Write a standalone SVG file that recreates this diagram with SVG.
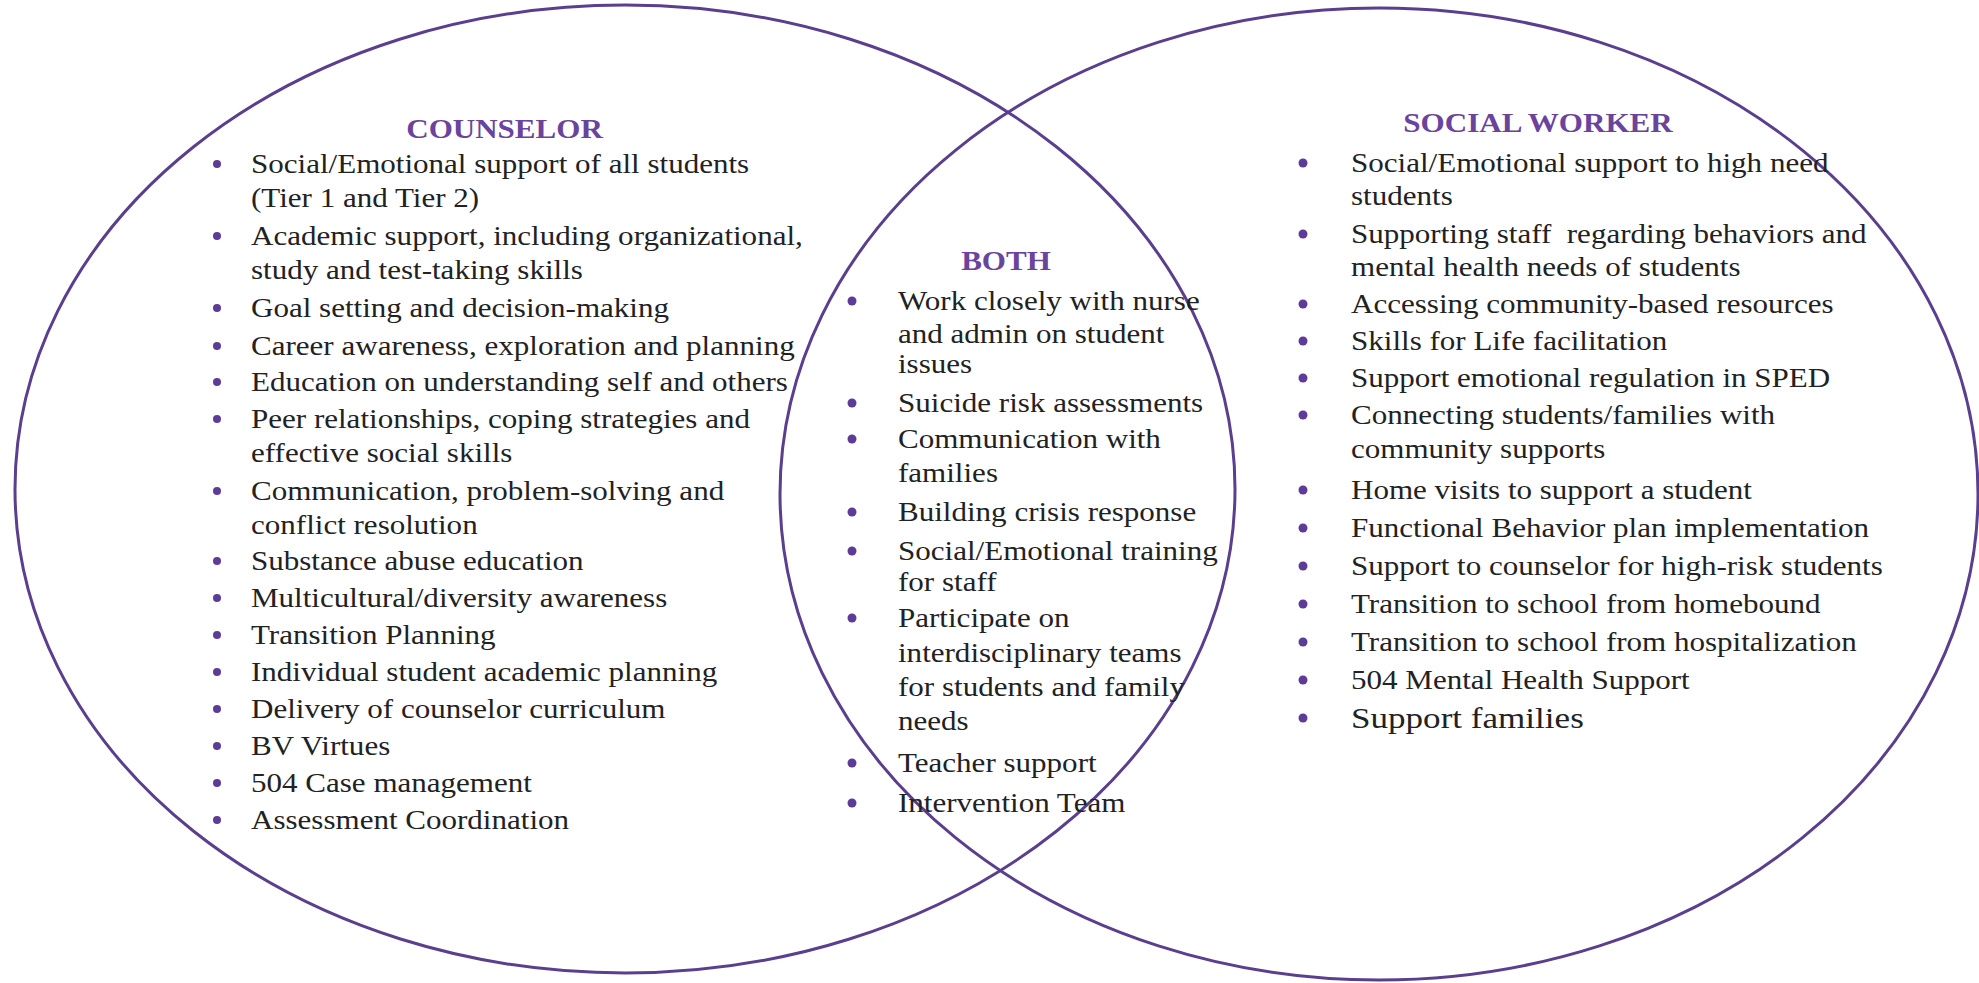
<svg xmlns="http://www.w3.org/2000/svg" width="1979" height="983" viewBox="0 0 1979 983">
<style>
.ring{fill:none;stroke:#5a3f8e;stroke-width:3}
.t{font-family:"Liberation Serif","Times New Roman",serif;font-size:27px;fill:#222}
.h{font-family:"Liberation Serif","Times New Roman",serif;font-size:27px;font-weight:bold;fill:#6a449c;text-anchor:middle}
.dot{fill:#5d3b98}
.big{font-size:30.5px}
</style>
<rect width="1979" height="983" fill="#fff"/>
<g id="circles">
<ellipse id="counselor-circle" class="ring" cx="625" cy="489" rx="610" ry="484"/>
<ellipse id="social-worker-circle" class="ring" cx="1379" cy="494" rx="599" ry="486"/>
</g>
<g id="counselor">
<text class="h" transform="translate(504.5,138) scale(1.15,1)">COUNSELOR</text>
<g class="dot">
<circle cx="217" cy="164" r="4"/><circle cx="217" cy="236" r="4"/><circle cx="217" cy="308" r="4"/>
<circle cx="217" cy="346" r="4"/><circle cx="217" cy="382" r="4"/><circle cx="217" cy="419" r="4"/>
<circle cx="217" cy="491" r="4"/><circle cx="217" cy="561" r="4"/><circle cx="217" cy="598" r="4"/>
<circle cx="217" cy="635" r="4"/><circle cx="217" cy="672" r="4"/><circle cx="217" cy="709" r="4"/>
<circle cx="217" cy="746" r="4"/><circle cx="217" cy="783" r="4"/><circle cx="217" cy="820" r="4"/>
</g>
<g transform="translate(251,0) scale(1.15,1)">
<text class="t" x="0" y="173">Social/Emotional support of all students</text>
<text class="t" x="0" y="207">(Tier 1 and Tier 2)</text>
<text class="t" x="0" y="245">Academic support, including organizational,</text>
<text class="t" x="0" y="279">study and test-taking skills</text>
<text class="t" x="0" y="317">Goal setting and decision-making</text>
<text class="t" x="0" y="355">Career awareness, exploration and planning</text>
<text class="t" x="0" y="391">Education on understanding self and others</text>
<text class="t" x="0" y="428">Peer relationships, coping strategies and</text>
<text class="t" x="0" y="462">effective social skills</text>
<text class="t" x="0" y="500">Communication, problem-solving and</text>
<text class="t" x="0" y="534">conflict resolution</text>
<text class="t" x="0" y="570">Substance abuse education</text>
<text class="t" x="0" y="607">Multicultural/diversity awareness</text>
<text class="t" x="0" y="644">Transition Planning</text>
<text class="t" x="0" y="681">Individual student academic planning</text>
<text class="t" x="0" y="718">Delivery of counselor curriculum</text>
<text class="t" x="0" y="755">BV Virtues</text>
<text class="t" x="0" y="792">504 Case management</text>
<text class="t" x="0" y="829">Assessment Coordination</text>
</g>
</g>
<g id="both">
<text class="h" transform="translate(1006,270) scale(1.15,1)">BOTH</text>
<g class="dot">
<circle cx="852" cy="301" r="4.5"/><circle cx="852" cy="403" r="4.5"/><circle cx="852" cy="439" r="4.5"/>
<circle cx="852" cy="512" r="4.5"/><circle cx="852" cy="551" r="4.5"/><circle cx="852" cy="618" r="4.5"/>
<circle cx="852" cy="763" r="4.5"/><circle cx="852" cy="803" r="4.5"/>
</g>
<g transform="translate(898,0) scale(1.15,1)">
<text class="t" x="0" y="310">Work closely with nurse</text>
<text class="t" x="0" y="343">and admin on student</text>
<text class="t" x="0" y="373">issues</text>
<text class="t" x="0" y="412">Suicide risk assessments</text>
<text class="t" x="0" y="448">Communication with</text>
<text class="t" x="0" y="482">families</text>
<text class="t" x="0" y="521">Building crisis response</text>
<text class="t" x="0" y="560">Social/Emotional training</text>
<text class="t" x="0" y="591">for staff</text>
<text class="t" x="0" y="627">Participate on</text>
<text class="t" x="0" y="662">interdisciplinary teams</text>
<text class="t" x="0" y="696">for students and family</text>
<text class="t" x="0" y="730">needs</text>
<text class="t" x="0" y="772">Teacher support</text>
<text class="t" x="0" y="812">Intervention Team</text>
</g>
</g>
<g id="social-worker">
<text class="h" transform="translate(1538,132) scale(1.15,1)">SOCIAL WORKER</text>
<g class="dot">
<circle cx="1303" cy="163" r="4.5"/><circle cx="1303" cy="234" r="4.5"/><circle cx="1303" cy="304" r="4.5"/>
<circle cx="1303" cy="341" r="4.5"/><circle cx="1303" cy="378" r="4.5"/><circle cx="1303" cy="415" r="4.5"/>
<circle cx="1303" cy="490" r="4.5"/><circle cx="1303" cy="528" r="4.5"/><circle cx="1303" cy="566" r="4.5"/>
<circle cx="1303" cy="604" r="4.5"/><circle cx="1303" cy="642" r="4.5"/><circle cx="1303" cy="680" r="4.5"/>
<circle cx="1303" cy="718" r="4.5"/>
</g>
<g transform="translate(1351,0) scale(1.15,1)">
<text class="t" x="0" y="172">Social/Emotional support to high need</text>
<text class="t" x="0" y="205">students</text>
<text class="t" x="0" y="243" style="white-space:pre">Supporting staff  regarding behaviors and</text>
<text class="t" x="0" y="276">mental health needs of students</text>
<text class="t" x="0" y="313">Accessing community-based resources</text>
<text class="t" x="0" y="350">Skills for Life facilitation</text>
<text class="t" x="0" y="387">Support emotional regulation in SPED</text>
<text class="t" x="0" y="424">Connecting students/families with</text>
<text class="t" x="0" y="458">community supports</text>
<text class="t" x="0" y="499">Home visits to support a student</text>
<text class="t" x="0" y="537">Functional Behavior plan implementation</text>
<text class="t" x="0" y="575">Support to counselor for high-risk students</text>
<text class="t" x="0" y="613">Transition to school from homebound</text>
<text class="t" x="0" y="651">Transition to school from hospitalization</text>
<text class="t" x="0" y="689">504 Mental Health Support</text>
<text class="t big" x="0" y="728">Support families</text>
</g>
</g>
</svg>
